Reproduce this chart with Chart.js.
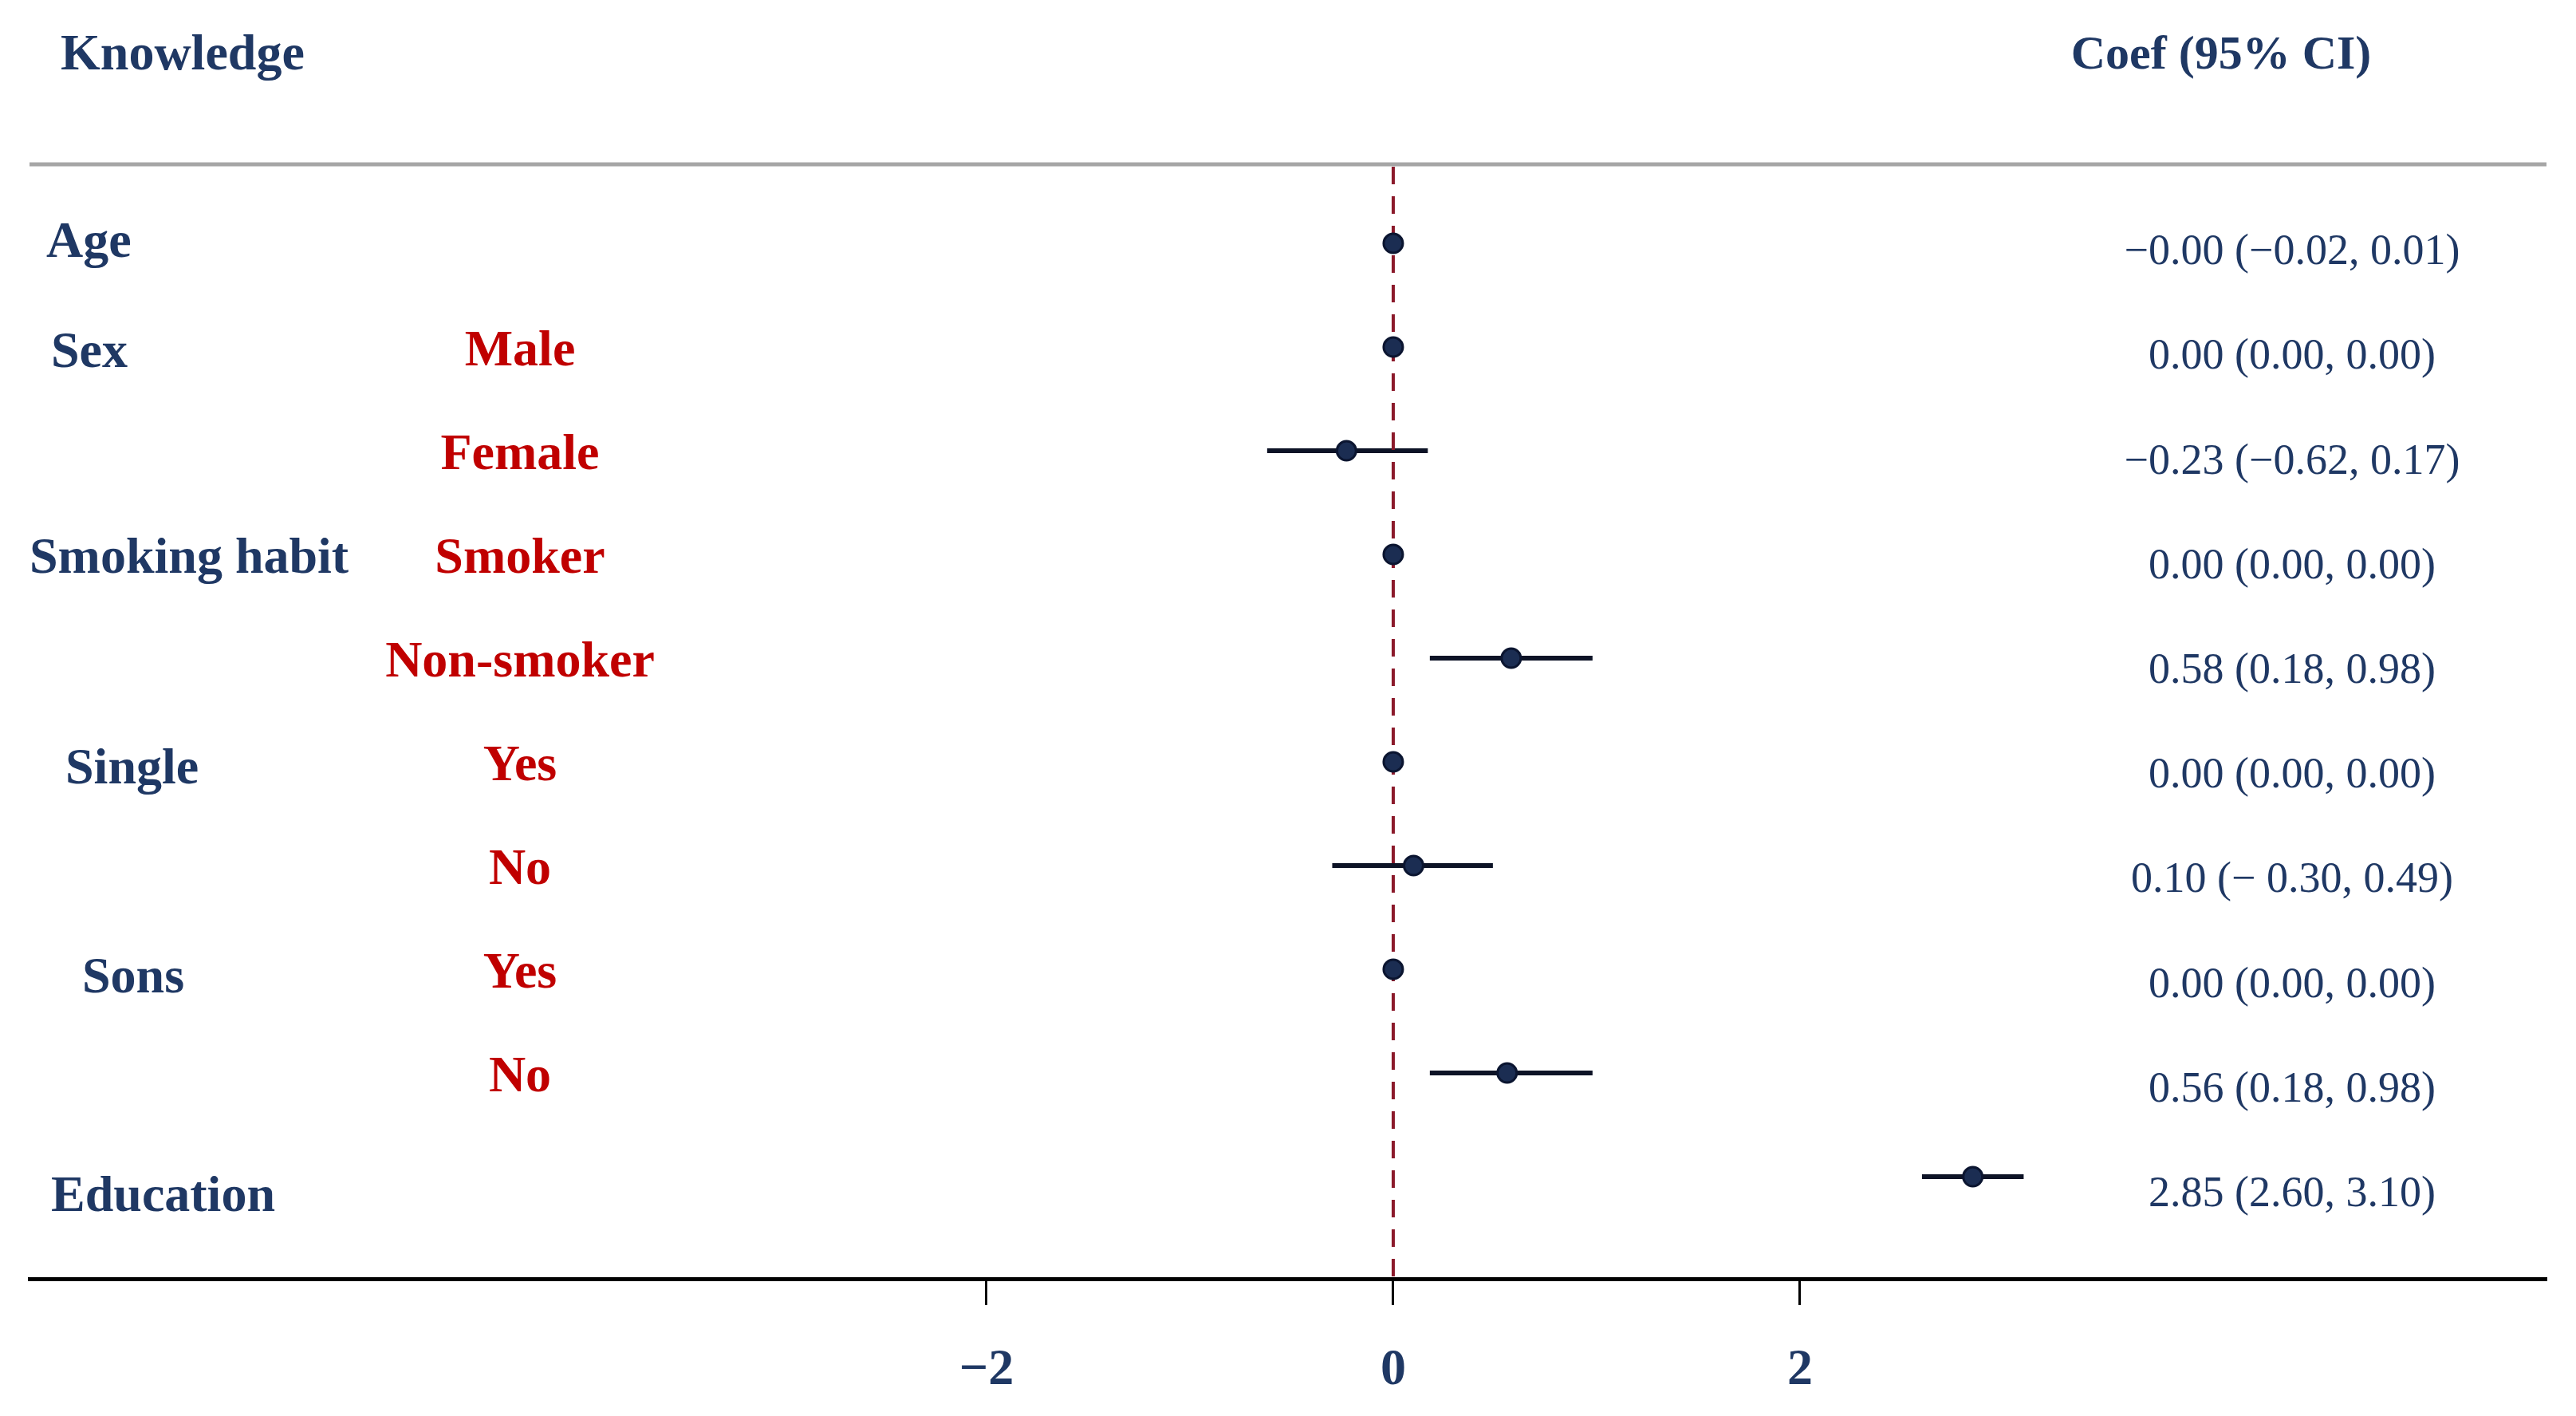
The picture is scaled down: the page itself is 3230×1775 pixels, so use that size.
<!DOCTYPE html>
<html>
<head>
<meta charset="utf-8">
<title>Knowledge forest plot</title>
<script src="https://cdn.jsdelivr.net/npm/chart.js@4.4.1/dist/chart.umd.min.js"></script>
<style>
  html, body { margin: 0; padding: 0; background: #fff; }
  canvas { display: block; }
</style>
</head>
<body>
<canvas id="forest" width="3230" height="1775"></canvas>
<script>
// data
const groups = ['Age', 'Sex', '', 'Smoking habit', '', 'Single', '', 'Sons', '', 'Education'];
const levels = ['', 'Male', 'Female', 'Smoker', 'Non-smoker', 'Yes', 'No', 'Yes', 'No', ''];
const coef = [-0.00, 0.00, -0.23, 0.00, 0.58, 0.00, 0.10, 0.00, 0.56, 2.85];
const ciLow = [-0.02, 0.00, -0.62, 0.00, 0.18, 0.00, -0.30, 0.00, 0.18, 2.60];
const ciHigh = [0.01, 0.00, 0.17, 0.00, 0.98, 0.00, 0.49, 0.00, 0.98, 3.10];
const coefText = [
    '\u22120.00 (\u22120.02, 0.01)',
    '0.00 (0.00, 0.00)',
    '\u22120.23 (\u22120.62, 0.17)',
    '0.00 (0.00, 0.00)',
    '0.58 (0.18, 0.98)',
    '0.00 (0.00, 0.00)',
    '0.10 (\u2212 0.30, 0.49)',
    '0.00 (0.00, 0.00)',
    '0.56 (0.18, 0.98)',
    '2.85 (2.60, 3.10)',
];
const xTicks = [-2, 0, 2];

const NAVY = '#1f3864';
const RED = '#c00000';
const SERIF = '"Liberation Serif", "Times New Roman", serif';

// where each group label sits (left edge and nudge, px)
const groupPos = {
    'Age': { x: 58, dy: 0 },
    'Sex': { x: 64, dy: 8 },
    'Smoking habit': { x: 37, dy: 6 },
    'Single': { x: 82, dy: 10 },
    'Sons': { x: 103, dy: 12 },
    'Education': { x: 64, dy: 26 },
};

const forestPlugin = {
    id: 'forest',
    beforeDatasetsDraw(chart) {
        const { ctx, chartArea, scales: { x, y } } = chart;
        ctx.save();

        // top rule
        ctx.strokeStyle = '#a6a6a6';
        ctx.lineWidth = 5;
        ctx.beginPath();
        ctx.moveTo(chartArea.left, chartArea.top);
        ctx.lineTo(chartArea.right, chartArea.top);
        ctx.stroke();

        // confidence intervals
        ctx.strokeStyle = '#0d1326';
        ctx.lineWidth = 6;
        ctx.lineCap = 'butt';
        coef.forEach((c, i) => {
            if (ciHigh[i] - ciLow[i] < 0.05) return;
            const py = y.getPixelForValue(i);
            ctx.beginPath();
            ctx.moveTo(x.getPixelForValue(ciLow[i]), py);
            ctx.lineTo(x.getPixelForValue(ciHigh[i]), py);
            ctx.stroke();
        });

        // null line
        const x0 = x.getPixelForValue(0);
        ctx.strokeStyle = '#8b1a2b';
        ctx.lineWidth = 4;
        ctx.setLineDash([22, 15]);
        ctx.beginPath();
        ctx.moveTo(x0, chartArea.top + 3);
        ctx.lineTo(x0, chartArea.bottom);
        ctx.stroke();
        ctx.restore();
    },
    afterDraw(chart) {
        const { ctx, scales: { y } } = chart;
        ctx.save();
        ctx.textBaseline = 'middle';

        // headers
        ctx.fillStyle = NAVY;
        ctx.font = 'bold 64px ' + SERIF;
        ctx.textAlign = 'left';
        ctx.fillText('Knowledge', 76, 70);
        ctx.font = 'bold 60px ' + SERIF;
        ctx.textAlign = 'center';
        ctx.fillText('Coef (95% CI)', 2785, 70);

        groups.forEach((g, i) => {
            const py = y.getPixelForValue(i);
            if (g) {
                ctx.font = 'bold 64px ' + SERIF;
                ctx.fillStyle = NAVY;
                ctx.textAlign = 'left';
                ctx.fillText(g, groupPos[g].x, py + groupPos[g].dy);
            }
            if (levels[i]) {
                ctx.font = 'bold 64px ' + SERIF;
                ctx.fillStyle = RED;
                ctx.textAlign = 'center';
                ctx.fillText(levels[i], 652, py + 6);
            }
            ctx.font = '54px ' + SERIF;
            ctx.fillStyle = NAVY;
            ctx.textAlign = 'center';
            ctx.fillText(coefText[i], 2874, py + 12 + i * 1.2);
        });
        ctx.restore();
    }
};

new Chart(document.getElementById('forest'), {
    type: 'scatter',
    data: {
        datasets: [{
            data: coef.map((v, i) => ({ x: v, y: i })),
            pointRadius: 12,
            pointHoverRadius: 12,
            backgroundColor: '#1b2d52',
            borderColor: '#0b1530',
            borderWidth: 3,
        }],
    },
    options: {
        responsive: false,
        animation: false,
        devicePixelRatio: 1,
        layout: { padding: { left: 37, right: 37, top: 206, bottom: 0 } },
        plugins: {
            legend: { display: false },
            tooltip: { enabled: false },
        },
        scales: {
            x: {
                type: 'linear',
                min: -6.706,
                max: 5.671,
                afterBuildTicks: (s) => { s.ticks = xTicks.map(v => ({ value: v })); },
                afterFit: (s) => { s.height = 172; },
                border: { display: true, color: '#000', width: 5 },
                grid: {
                    drawOnChartArea: false,
                    drawTicks: true,
                    tickLength: 33,
                    tickColor: '#000',
                    tickWidth: 3,
                },
                ticks: {
                    color: NAVY,
                    padding: 44,
                    font: { family: SERIF, size: 64, weight: 'bold' },
                    callback: (v) => (v < 0 ? '\u2212' + Math.abs(v) : String(v)),
                },
            },
            y: {
                type: 'linear',
                display: false,
                reverse: true,
                min: -0.762,
                max: 9.984,
            },
        },
    },
    plugins: [forestPlugin],
});
</script>
</body>
</html>
